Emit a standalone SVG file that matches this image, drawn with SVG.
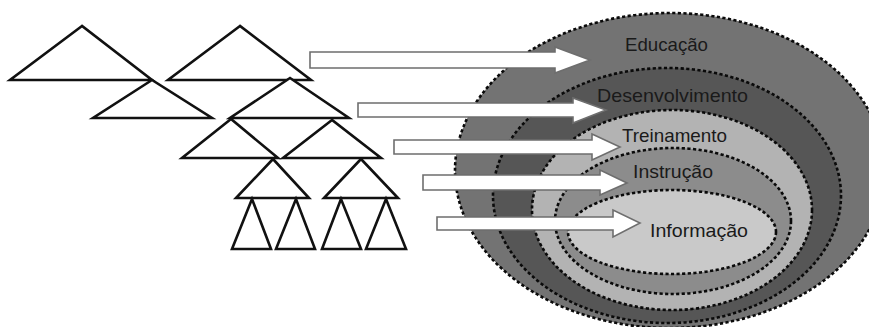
<svg xmlns="http://www.w3.org/2000/svg" width="869" height="327" viewBox="0 0 869 327">
<style>
.tri{fill:#fff;stroke:#111;stroke-width:2.6;stroke-linejoin:miter}
.ring{stroke:#0a0a0a;stroke-width:2.6;stroke-dasharray:3.2 2.4}
.arr{fill:#fff;stroke:#6e6e6e;stroke-width:1.6;stroke-linejoin:miter}
.lbl{font-family:"Liberation Sans",Arial,sans-serif;font-size:18.5px;fill:#1a1a1a}
</style>
<rect width="869" height="327" fill="#fff"/>
<g id="triangles">
<g id="t1"><polygon class="tri" points="82,26 10,80 152,80"/></g>
<g id="t2"><polygon class="tri" points="152,80 93,118 212,118"/></g>
<g id="t3"><polygon class="tri" points="240,26 168,80 311,80"/></g>
<g id="t4"><polygon class="tri" points="290,78 230,118 349,118"/></g>
<g id="t5"><polygon class="tri" points="231,119 182,158 278,158"/></g>
<g id="t6"><polygon class="tri" points="332,120 283,158 381,158"/></g>
<g id="t7"><polygon class="tri" points="273,159 236,198 309,198"/></g>
<g id="t8"><polygon class="tri" points="361,159 324,198 398,198"/></g>
<g id="t9"><polygon class="tri" points="252,199 232,249 271,249"/></g>
<g id="t10"><polygon class="tri" points="296,199 276,249 315,249"/></g>
<g id="t11"><polygon class="tri" points="341,199 322,249 361,249"/></g>
<g id="t12"><polygon class="tri" points="386,199 366,249 406,249"/></g>
</g>
<g id="educacao"><ellipse class="ring" cx="670" cy="170.5" rx="215" ry="157.5" fill="#737373"/></g>
<g id="desenvolvimento"><ellipse class="ring" cx="667" cy="195.5" rx="174" ry="127.5" fill="#565656"/></g>
<g id="treinamento"><ellipse class="ring" cx="672" cy="210" rx="140" ry="100" fill="#b3b3b3"/></g>
<g id="instrucao"><ellipse class="ring" cx="673" cy="221" rx="118" ry="73" fill="#8c8c8c"/></g>
<g id="informacao"><ellipse class="ring" cx="672" cy="232" rx="104" ry="42" fill="#c9c9c9"/></g>
<g id="connectors">
<polygon class="arr" points="310,52 555,52 555,47 590,60 555,73 555,68 310,68"/>
<polygon class="arr" points="358,103 573,103 573,98 606,110 573,123 573,117 358,117"/>
<polygon class="arr" points="394,140 592,140 592,134 620,147 592,160 592,154 394,154"/>
<polygon class="arr" points="423,175 600,175 600,170 627,183 600,195 600,190 423,190"/>
<polygon class="arr" points="437,217 613,217 613,210 640,223 613,237 613,230 437,230"/>
</g>
<g id="labels">
<text class="lbl" x="625" y="51" textLength="83" lengthAdjust="spacingAndGlyphs">Educação</text>
<text class="lbl" x="597" y="102" textLength="151" lengthAdjust="spacingAndGlyphs">Desenvolvimento</text>
<text class="lbl" x="622" y="142" textLength="105" lengthAdjust="spacingAndGlyphs">Treinamento</text>
<text class="lbl" x="633" y="178" textLength="80" lengthAdjust="spacingAndGlyphs">Instrução</text>
<text class="lbl" x="650" y="237" textLength="98" lengthAdjust="spacingAndGlyphs">Informação</text>
</g>
</svg>
